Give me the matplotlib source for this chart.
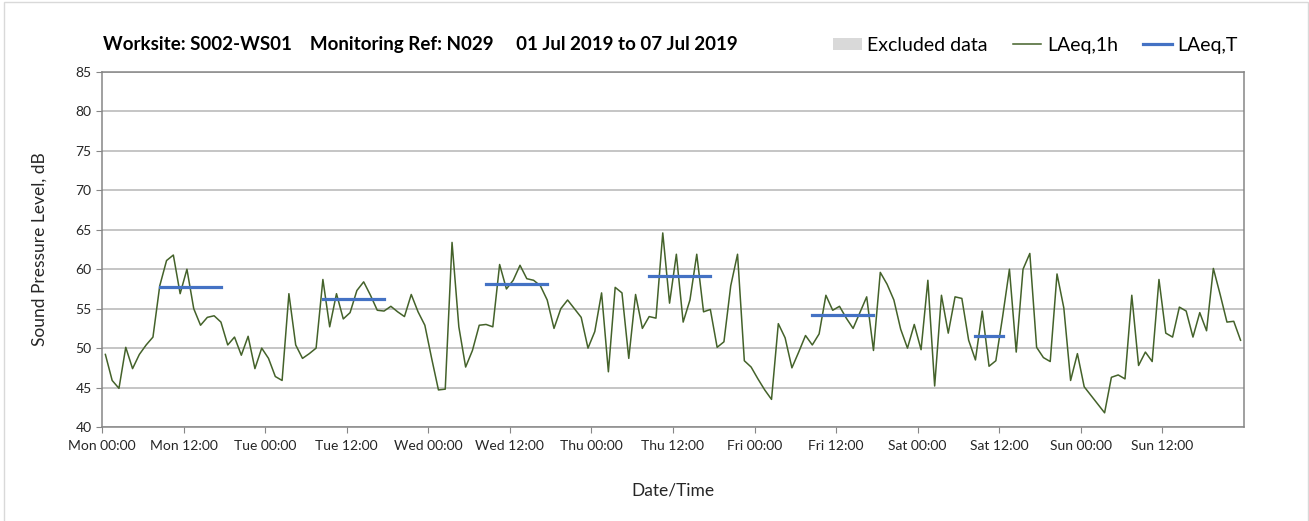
import numpy as np
import matplotlib
matplotlib.use("Agg")
import matplotlib.pyplot as plt
from matplotlib.patches import Patch
from matplotlib.lines import Line2D

plt.rcParams['font.family'] = ['Lato', 'DejaVu Sans']

# Hourly LAeq,1h values, Mon 00:00 to Sun 23:00 (168 hours)
laeq_1h = [
    49.2, 45.9, 44.9, 50.1, 47.4, 49.2, 50.4, 51.4, 57.9, 61.1, 61.8, 56.9,
    60.0, 55.0, 52.9, 53.9, 54.1, 53.3, 50.4, 51.4, 49.1, 51.5, 47.4, 50.0,
    48.7, 46.4, 45.9, 56.9, 50.4, 48.7, 49.3, 50.0, 58.7, 52.7, 56.9, 53.7,
    54.5, 57.3, 58.4, 56.7, 54.8, 54.7, 55.3, 54.6, 54.0, 56.8, 54.6, 52.9,
    48.7, 44.7, 44.8, 63.4, 52.7, 47.6, 49.7, 52.9, 53.0, 52.7, 60.6, 57.5,
    58.6, 60.5, 58.8, 58.6, 57.9, 56.1, 52.5, 55.0, 56.1, 55.0, 53.9, 50.0,
    52.1, 57.0, 47.0, 57.7, 57.0, 48.7, 56.8, 52.5, 54.0, 53.8, 64.6, 55.7,
    61.9, 53.3, 56.1, 61.9, 54.6, 54.9, 50.1, 50.8, 57.9, 61.9, 48.4, 47.6,
    46.1, 44.7, 43.5, 53.1, 51.3, 47.5, 49.5, 51.6, 50.4, 51.8, 56.7, 54.8,
    55.3, 53.8, 52.5, 54.5, 56.5, 49.7, 59.6, 58.1, 56.1, 52.4, 50.0, 53.0,
    49.8, 58.6, 45.2, 56.7, 51.9, 56.5, 56.3, 51.0, 48.5, 54.7, 47.7, 48.4,
    54.0, 60.0, 49.5, 60.0, 62.0, 50.1, 48.8, 48.3, 59.4, 55.1, 45.9, 49.3,
    45.1, 44.0, 42.9, 41.8, 46.3, 46.6, 46.1, 56.7, 47.8, 49.5, 48.3, 58.7,
    51.9, 51.4, 55.2, 54.7, 51.4, 54.5, 52.2, 60.1, 56.8, 53.3, 53.4, 51.0,
]

# LAeq,T periods (start hour index, end hour index, level)
laeqT_start = [8, 32, 56, 80, 104, 128]
laeqT_end = [17, 41, 65, 89, 113, 132]
laeqT_level = [57.8, 56.2, 58.1, 59.1, 54.2, 51.5]

day_names = ['Mon', 'Tue', 'Wed', 'Thu', 'Fri', 'Sat', 'Sun']

hours = np.arange(len(laeq_1h)) + 0.5

fig = plt.figure(figsize=(13.09, 5.21), dpi=100)
ax = fig.add_axes([0.0779, 0.1804, 0.8724, 0.6814])

ax.plot(hours, laeq_1h, color='#44622a', lw=1.1, zorder=3)
for s, e, v in zip(laeqT_start, laeqT_end, laeqT_level):
    ax.plot([s + 0.5, e + 0.5], [v, v], color='#4472c4', lw=2.3, zorder=4)

ax.set_xlim(0, 168)
ax.set_ylim(40, 85)
ax.set_yticks(np.arange(40, 86, 5))
ax.set_xticks(np.arange(0, 168, 12))
xlabels = []
for d in day_names:
    xlabels += [d + ' 00:00', d + ' 12:00']
ax.set_xticklabels(xlabels)
ax.set_xticks(np.arange(24, 168, 24), minor=True)

# gridlines: horizontal every 5 dB, vertical at day boundaries
ax.grid(axis='y', color='#c0c0c0', lw=1.3)
ax.grid(axis='x', which='minor', color='#d9d9d9', lw=1.3)
ax.tick_params(axis='x', which='minor', length=0)
ax.tick_params(axis='both', which='major', length=4, color='#868686',
               labelsize=10, labelcolor='#262626')
ax.tick_params(axis='x', pad=5)
for sp in ax.spines.values():
    sp.set_color('#868686')
    sp.set_linewidth(1.1)
ax.set_axisbelow(True)

ax.set_ylabel('Sound Pressure Level, dB', fontsize=12.5, color='#262626', labelpad=20)
ax.set_xlabel('Date/Time', fontsize=12.5, color='#262626', labelpad=22)

fig.text(0.079, 0.915, 'Worksite: S002-WS01    Monitoring Ref: N029     01 Jul 2019 to 07 Jul 2019',
         fontsize=13.5, fontweight='bold', color='black', va='center')

handles = [Patch(facecolor='#d9d9d9', edgecolor='none'),
           Line2D([], [], color='#44622a', lw=1.1),
           Line2D([], [], color='#4472c4', lw=2.3)]
fig.legend(handles, ['Excluded data', 'LAeq,1h', 'LAeq,T'], ncol=3,
           loc='center right', bbox_to_anchor=(0.959, 0.913), frameon=False,
           fontsize=14, handlelength=1.45, handleheight=0.6, columnspacing=1.3,
           handletextpad=0.3)

# outer chart border (bottom edge falls outside the image)
fig.patches.append(plt.Rectangle((0.003, -0.01), 0.996, 1.007, transform=fig.transFigure,
                                 fill=False, edgecolor='#d9d9d9', lw=1))

fig.savefig('out.png', dpi=100)
